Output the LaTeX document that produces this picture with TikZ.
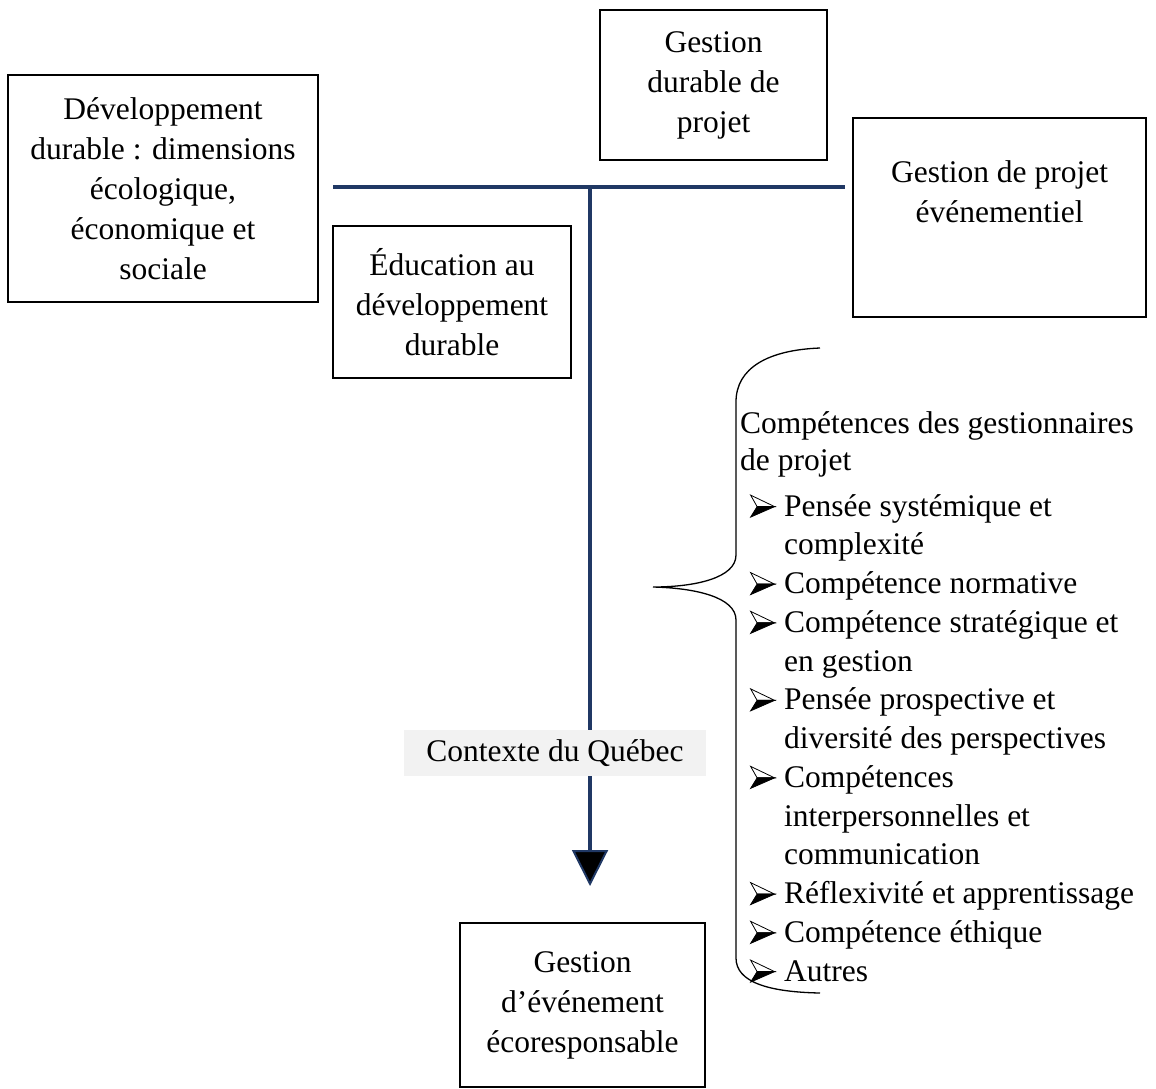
\documentclass[tikz,border=0pt]{standalone}
\usepackage{fontspec}
\setmainfont{Liberation Serif}
\usetikzlibrary{arrows.meta}
\definecolor{navy}{HTML}{203864}
\definecolor{ctxgray}{HTML}{F2F2F2}
\newcommand{\bul}{\makebox[44pt][l]{\hspace*{10pt}\tikz[x=1pt,y=1pt,baseline=0pt]{%
  \draw[line width=0.8pt,line join=miter] (24,9.5) -- (0,21) -- (6.5,9.5) -- cycle;
  \fill[black] (24,9.5) -- (6.5,9.5) -- (0,-1) -- cycle;
  \draw[line width=0.8pt,line join=miter] (24,9.5) -- (6.5,9.5) -- (0,-1) -- cycle;}}}
\begin{document}
\begin{tikzpicture}[x=1pt,y=-1pt,
  box/.style={draw=black,line width=1.3pt,inner sep=0pt,align=center,
    font=\fontsize{31.5}{40}\selectfont},
  navyline/.style={draw=navy,line width=4.5pt},
  stemline/.style={draw=navy,line width=3.5pt},
  bracepath/.style={draw=black,line width=1.3pt}]
\useasboundingbox (0,0) rectangle (1156,1088);

\node[box,minimum width=310pt,minimum height=227pt] (dd) at (163,188.5)
  {Développement\\durable : dimensions\\écologique,\\économique et\\sociale};
\node[box,minimum width=227pt,minimum height=150pt] (gdp) at (713.5,85)
  {Gestion\\durable de\\projet};
\node[box,minimum width=293pt,minimum height=199pt] (gpe) at (999.5,217.5)
  {Gestion de projet\\événementiel\\ \strut};
\node[box,minimum width=238pt,minimum height=152pt] (edd) at (452,302)
  {Éducation au\\développement\\durable};
\node[box,minimum width=245pt,minimum height=164pt] (gee) at (582.5,1005)
  {Gestion\\d’événement\\écoresponsable};

\coordinate (hl) at (333,187);
\coordinate (hr) at (845,187);
\coordinate (hm) at (590,187);
\coordinate (tip) at (590,886);
\draw[navyline] (hl) -- (hr);
\draw[stemline,-{Triangle[width=36pt,length=36pt,fill=black,line width=2pt]}] (hm) -- (tip);

\node[fill=ctxgray,inner sep=0pt,minimum width=302pt,minimum height=46pt,
  font=\fontsize{31.5}{36}\selectfont] (ctx) at (555,753) {Contexte du Québec};

\coordinate (bt) at (820,348);
\coordinate (bm) at (653,587);
\coordinate (bb) at (820,993);
\draw[bracepath] (bt) .. controls (768,350) and (736,368) .. (736,402)
  -- (736,555) .. controls (736,578) and (695,587) .. (bm)
  .. controls (695,588) and (736,597) .. (736,620)
  -- (736,958) .. controls (736,982) and (768,992) .. (bb);

\node[anchor=north west,inner sep=0pt,align=left,
  font=\fontsize{31.5}{37}\selectfont] (head) at (740,411)
  {Compétences des gestionnaires\\de projet};
\node[anchor=north west,inner sep=0pt,align=left,
  font=\fontsize{31.5}{38.75}\selectfont] (list) at (740,494)
  {\bul Pensée systémique et\\
   \hspace*{44pt}complexité\\
   \bul Compétence normative\\
   \bul Compétence stratégique et\\
   \hspace*{44pt}en gestion\\
   \bul Pensée prospective et\\
   \hspace*{44pt}diversité des perspectives\\
   \bul Compétences\\
   \hspace*{44pt}interpersonnelles et\\
   \hspace*{44pt}communication\\
   \bul Réflexivité et apprentissage\\
   \bul Compétence éthique\\
   \bul Autres};
\end{tikzpicture}
\end{document}
